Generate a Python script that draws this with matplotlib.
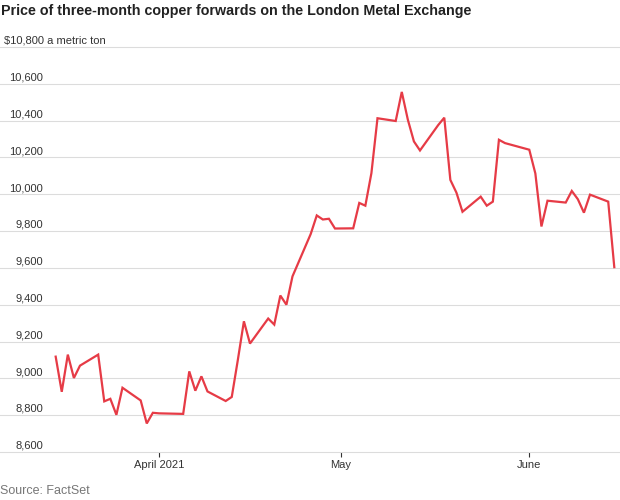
import matplotlib
matplotlib.use('Agg')
import matplotlib.pyplot as plt
import pandas as pd

plt.rcParams['font.family'] = ['Liberation Sans', 'DejaVu Sans']

dates = ['2021-03-15', '2021-03-16', '2021-03-17', '2021-03-18', '2021-03-19',
         '2021-03-22', '2021-03-23', '2021-03-24', '2021-03-25', '2021-03-26',
         '2021-03-29', '2021-03-30', '2021-03-31', '2021-04-01', '2021-04-05',
         '2021-04-06', '2021-04-07', '2021-04-08', '2021-04-09',
         '2021-04-12', '2021-04-13', '2021-04-14', '2021-04-15', '2021-04-16',
         '2021-04-19', '2021-04-20', '2021-04-21', '2021-04-22', '2021-04-23',
         '2021-04-26', '2021-04-27', '2021-04-28', '2021-04-29', '2021-04-30',
         '2021-05-03', '2021-05-04', '2021-05-05', '2021-05-06', '2021-05-07',
         '2021-05-10', '2021-05-11', '2021-05-12', '2021-05-13', '2021-05-14',
         '2021-05-17', '2021-05-18', '2021-05-19', '2021-05-20', '2021-05-21',
         '2021-05-24', '2021-05-25', '2021-05-26', '2021-05-27', '2021-05-28',
         '2021-06-01', '2021-06-02', '2021-06-03', '2021-06-04',
         '2021-06-07', '2021-06-08', '2021-06-09', '2021-06-10', '2021-06-11',
         '2021-06-14', '2021-06-15']
prices = [9118, 8927, 9129, 9002, 9069,
          9129, 8875, 8889, 8802, 8949,
          8880, 8755, 8813, 8810, 8807,
          9038, 8933, 9011, 8929,
          8877, 8899, 9100, 9310, 9189,
          9325, 9292, 9450, 9400, 9554,
          9784, 9885, 9863, 9867, 9814,
          9815, 9953, 9938, 10115, 10413,
          10398, 10556, 10405, 10287, 10238,
          10376, 10416, 10078, 10009, 9905,
          9987, 9938, 9960, 10296, 10278,
          10242, 10113, 9825, 9965,
          9955, 10018, 9973, 9900, 9998,
          9960, 9604]

y_ticks = [8600, 8800, 9000, 9200, 9400, 9600, 9800, 10000, 10200, 10400, 10600, 10800]
x_ticks = ['2021-04-01', '2021-05-01', '2021-06-01']
x_labels = ['April 2021', 'May', 'June']

d = pd.to_datetime(dates)

fig = plt.figure(figsize=(6.2, 5), dpi=100)
ax = fig.add_axes([0, 0.096, 1, 0.81])

ax.plot(d, prices, color='#e63b46', lw=1.6, zorder=3, solid_joinstyle='miter')

x0 = pd.Timestamp('2021-03-15') - pd.Timedelta(days=9.17)
x1 = pd.Timestamp('2021-06-15') + pd.Timedelta(days=0.94)
ax.set_xlim(x0, x1)
ax.set_ylim(8600, 10800)

for s in ax.spines.values():
    s.set_visible(False)

ax.set_yticks(y_ticks)
ax.yaxis.grid(True, color='#dcdcdc', lw=0.8)
for gl in ax.get_ygridlines():
    gl.set_clip_on(False)
ax.tick_params(axis='y', length=0, labelleft=False)

ax.set_xticks(pd.to_datetime(x_ticks))
ax.set_xticklabels(x_labels)
ax.tick_params(axis='x', length=3.6, width=0.8, color='#333333', pad=2,
               labelsize=8, labelcolor='#333333')

for v in y_ticks:
    if v == 10800:
        ax.annotate('$10,800 a metric ton', xy=(4 / 620, v), xycoords=('axes fraction', 'data'),
                    xytext=(0, 2.3), textcoords='offset points', ha='left', va='baseline',
                    fontsize=8, color='#333333')
    else:
        ax.annotate(f'{v:,}', xy=(43 / 620, v), xycoords=('axes fraction', 'data'),
                    xytext=(0, 2.3), textcoords='offset points', ha='right', va='baseline',
                    fontsize=8, color='#333333')

fig.text(0.002, 0.978, 'Price of three-month copper forwards on the London Metal Exchange',
         ha='left', va='center', fontsize=10.3, fontweight='bold', color='#222222')
fig.text(0.0, 0.018, 'Source: FactSet', ha='left', va='center', fontsize=9, color='#777777')

fig.savefig('out.png', dpi=100)
